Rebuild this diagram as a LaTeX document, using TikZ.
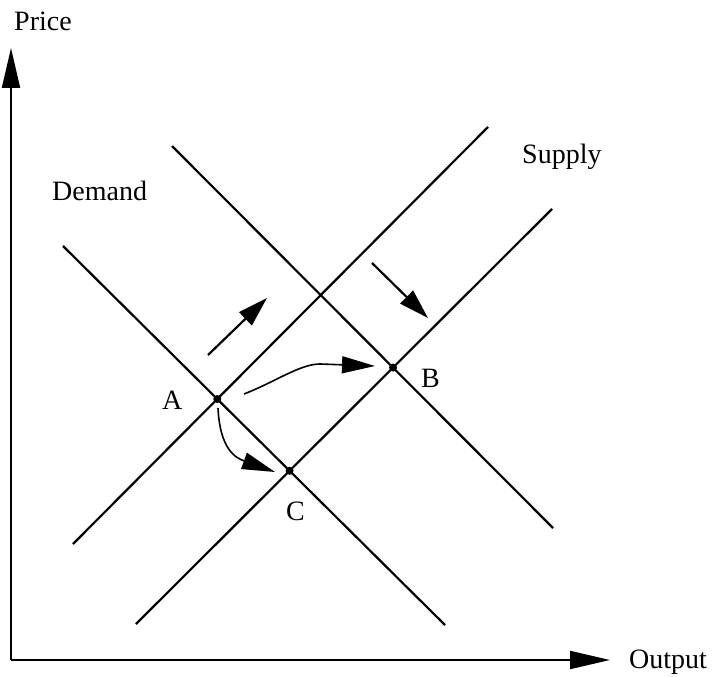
\documentclass[tikz,border=0pt]{standalone}
\usepackage{fontspec}
\setmainfont{Liberation Serif}
\usetikzlibrary{arrows.meta}
\begin{document}
\begin{tikzpicture}[x=1pt,y=-1pt,
  curveline/.style={line width=2.2pt},
  axisline/.style={line width=2pt,-{Triangle[length=40pt,width=18pt]}},
  shiftarrow/.style={line width=2.2pt,-{Triangle[length=30pt,width=18pt]}},
  moveline/.style={line width=1.6pt,-{Triangle[length=33pt,width=17pt]}},
  lbl/.style={anchor=base west,inner sep=0pt,font=\fontsize{28}{30}\selectfont},
  dot/.style={fill,circle,inner sep=0pt,minimum size=8pt}]
\useasboundingbox (0,0) rectangle (713,677);
% axes
\coordinate (O) at (11,660);
\coordinate (Ytop) at (11,48);
\coordinate (Xend) at (610,660);
\draw[axisline] (O) -- (Ytop);
\draw[axisline] (O) -- (Xend);
\node[lbl] (price) at (14,31) {Price};
\node[lbl] (output) at (629,668) {Output};
% curves
\coordinate (d1a) at (63,246);  \coordinate (d1b) at (445,625);
\coordinate (d2a) at (172,146); \coordinate (d2b) at (553,528);
\coordinate (s1a) at (73,544);  \coordinate (s1b) at (488,127);
\coordinate (s2a) at (136,624); \coordinate (s2b) at (552,209);
\draw[curveline] (d1a) -- (d1b);
\draw[curveline] (d2a) -- (d2b);
\draw[curveline] (s1a) -- (s1b);
\draw[curveline] (s2a) -- (s2b);
\node[lbl] (demand) at (52,200) {Demand};
\node[lbl] (supply) at (522,163) {Supply};
% equilibria
\node[dot] (A) at (intersection of d1a--d1b and s1a--s1b) {};
\node[dot] (B) at (intersection of d2a--d2b and s2a--s2b) {};
\node[dot] (C) at (intersection of d1a--d1b and s2a--s2b) {};
\node[lbl] (Alab) at (162,409) {A};
\node[lbl] (Blab) at (421,387) {B};
\node[lbl] (Clab) at (286,520) {C};
% shift arrows
\coordinate (u1) at (208,355); \coordinate (u2) at (267,298);
\coordinate (v1) at (372,263); \coordinate (v2) at (428,318);
\draw[shiftarrow] (u1) -- (u2);
\draw[shiftarrow] (v1) -- (v2);
% movement arrows
\coordinate (m1) at (244,394); \coordinate (m2) at (375,366);
\draw[moveline] (m1) .. controls (275,382) and (300,364) .. (320,364) -- (m2);
\coordinate (n1) at (218,408); \coordinate (n2) at (275,472);
\draw[moveline] (n1) .. controls (220,450) and (236,458) .. (n2);
\end{tikzpicture}
\end{document}
